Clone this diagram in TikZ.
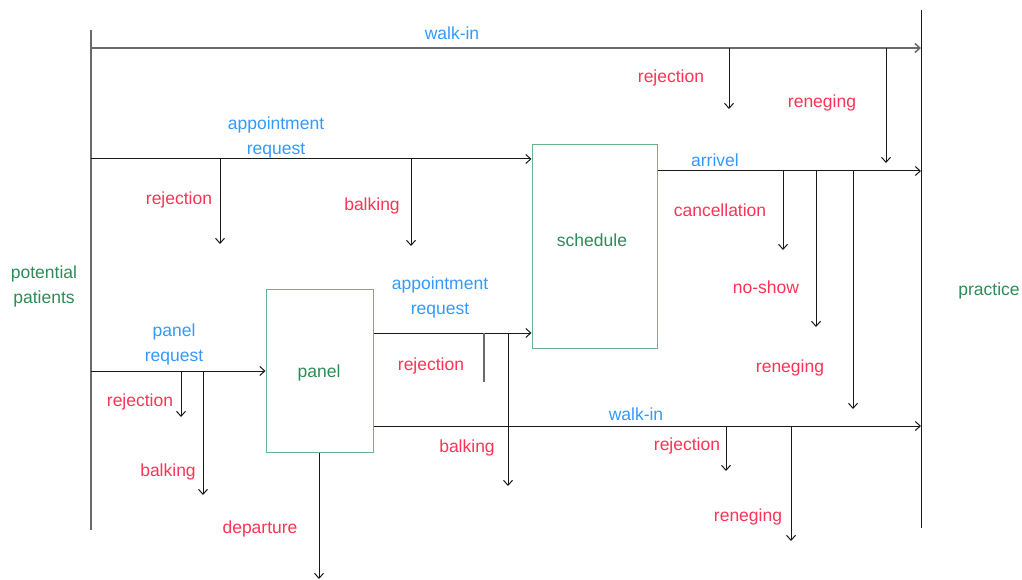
\documentclass[tikz,border=0pt]{standalone}
\usepackage{fontspec}
\setmainfont{Liberation Sans}
\usetikzlibrary{arrows.meta}
\definecolor{tblue}{HTML}{3399FF}
\definecolor{tred}{HTML}{FF3355}
\definecolor{tgreen}{HTML}{2E8B57}
\definecolor{boxgreen}{HTML}{6DB38A}
\definecolor{axisgray}{HTML}{6A6A6A}
\begin{document}
\begin{tikzpicture}[x=1pt,y=-1pt,
  >={Straight Barb[length=5pt,width=9pt]},
  flow/.style={draw=black!90, line width=1pt},
  axisline/.style={draw=axisgray, line width=1.5pt},
  stub/.style={draw=axisgray, line width=1.5pt},
  lbl/.style={font=\fontsize{17.5}{25}\selectfont, inner sep=0pt, align=center, yshift=-2pt},
  poslbl/.style={lbl, text=tblue},
  neglbl/.style={lbl, text=tred},
  entlbl/.style={lbl, text=tgreen},
  box/.style={draw=boxgreen, line width=1pt, inner sep=0pt, fill=white}]
\useasboundingbox (0,0) rectangle (1022,580);

% boundaries
\coordinate (Ltop) at (91,30);  \coordinate (Lbot) at (91,530);
\coordinate (Rtop) at (921,10); \coordinate (Rbot) at (921,528);
\draw[axisline] (Ltop) -- (Lbot);
\draw[flow] (Rtop) -- (Rbot);

% boxes
\node[box, minimum width=125, minimum height=203] (sched) at (594.5,246.5) {};
\node[entlbl] (schedlbl) at (592,238) {schedule};
\node[box, minimum width=107, minimum height=163, text=tgreen, font=\fontsize{17.5}{25}\selectfont, text depth=0pt, yshift=0pt] (panel) at (319.5,370.5) {};
\node[entlbl] (panellbl) at (319,371) {panel};

% entity labels
\node[entlbl] (pp) at (44,284) {potential\\patients};
\node[entlbl] (pr) at (989,289) {practice};

% top walk-in
\coordinate (w1s) at (91,48); \coordinate (w1e) at (921,48);
\draw[axisline,->] (w1s) -- (w1e);
\node[poslbl] (w1l) at (452,31) {walk-in};
\coordinate (w1r) at (729,48); \coordinate (w1re) at (729,109);
\draw[flow,->] (w1r) -- (w1re);
\node[neglbl] (w1rl) at (671,76) {rejection};
\coordinate (w1n) at (886,48); \coordinate (w1ne) at (886,163);
\draw[flow,->] (w1n) -- (w1ne);
\node[neglbl] (w1nl) at (822,101) {reneging};

% appointment request to schedule
\coordinate (a1s) at (91,159);
\draw[flow,->] (a1s) -- (sched.west |- a1s);
\node[poslbl] (a1l) at (276,135) {appointment\\request};
\coordinate (a1r) at (220,159); \coordinate (a1re) at (220,244);
\draw[flow,->] (a1r) -- (a1re);
\node[neglbl] (a1rl) at (179,198) {rejection};
\coordinate (a1b) at (411,159); \coordinate (a1be) at (411,246);
\draw[flow,->] (a1b) -- (a1be);
\node[neglbl] (a1bl) at (372,204) {balking};

% arrivel
\coordinate (arre) at (921,171);
\draw[flow,->] (sched.east |- arre) -- (arre);
\node[poslbl] (arrl) at (715,158) {arrivel};
\coordinate (arc) at (783,171); \coordinate (arce) at (783,250);
\draw[flow,->] (arc) -- (arce);
\node[neglbl] (arcl) at (720,208) {cancellation};
\coordinate (arn) at (816,171); \coordinate (arne) at (816,327);
\draw[flow,->] (arn) -- (arne);
\node[neglbl] (arnl) at (766,285) {no-show};
\coordinate (arg) at (853,171); \coordinate (arge) at (853,409);
\draw[flow,->] (arg) -- (arge);
\node[neglbl] (argl) at (790,366) {reneging};

% panel request
\coordinate (p1s) at (91,371);
\draw[flow,->] (p1s) -- (panel.west |- p1s);
\node[poslbl] (p1l) at (174,342) {panel\\request};
\coordinate (p1r) at (181,371); \coordinate (p1re) at (181,417);
\draw[flow,->] (p1r) -- (p1re);
\node[neglbl] (p1rl) at (140,400) {rejection};
\coordinate (p1b) at (203,371); \coordinate (p1be) at (203,495);
\draw[flow,->] (p1b) -- (p1be);
\node[neglbl] (p1bl) at (168,470) {balking};

% appointment request from panel
\coordinate (a2y) at (373,333);
\draw[flow,->] (panel.east |- a2y) -- (sched.west |- a2y);
\node[poslbl] (a2l) at (440,295) {appointment\\request};
\coordinate (a2r) at (484,333); \coordinate (a2re) at (484,382);
\draw[stub] (a2r) -- (a2re);
\node[neglbl] (a2rl) at (431,364) {rejection};
\coordinate (a2b) at (508,333); \coordinate (a2be) at (508,486);
\draw[flow,->] (a2b) -- (a2be);
\node[neglbl] (a2bl) at (467,446) {balking};

% walk-in from panel
\coordinate (w2e) at (921,426);
\draw[flow,->] (panel.east |- w2e) -- (w2e);
\node[poslbl] (w2l) at (636,412) {walk-in};
\coordinate (w2r) at (726,426); \coordinate (w2re) at (726,471);
\draw[flow,->] (w2r) -- (w2re);
\node[neglbl] (w2rl) at (687,444) {rejection};
\coordinate (w2n) at (791,426); \coordinate (w2ne) at (791,541);
\draw[flow,->] (w2n) -- (w2ne);
\node[neglbl] (w2nl) at (748,515) {reneging};

% departure
\coordinate (dep) at (319,579);
\draw[flow,->] (panel.south -| dep) -- (dep);
\node[neglbl] (depl) at (260,527) {departure};
\end{tikzpicture}
\end{document}
